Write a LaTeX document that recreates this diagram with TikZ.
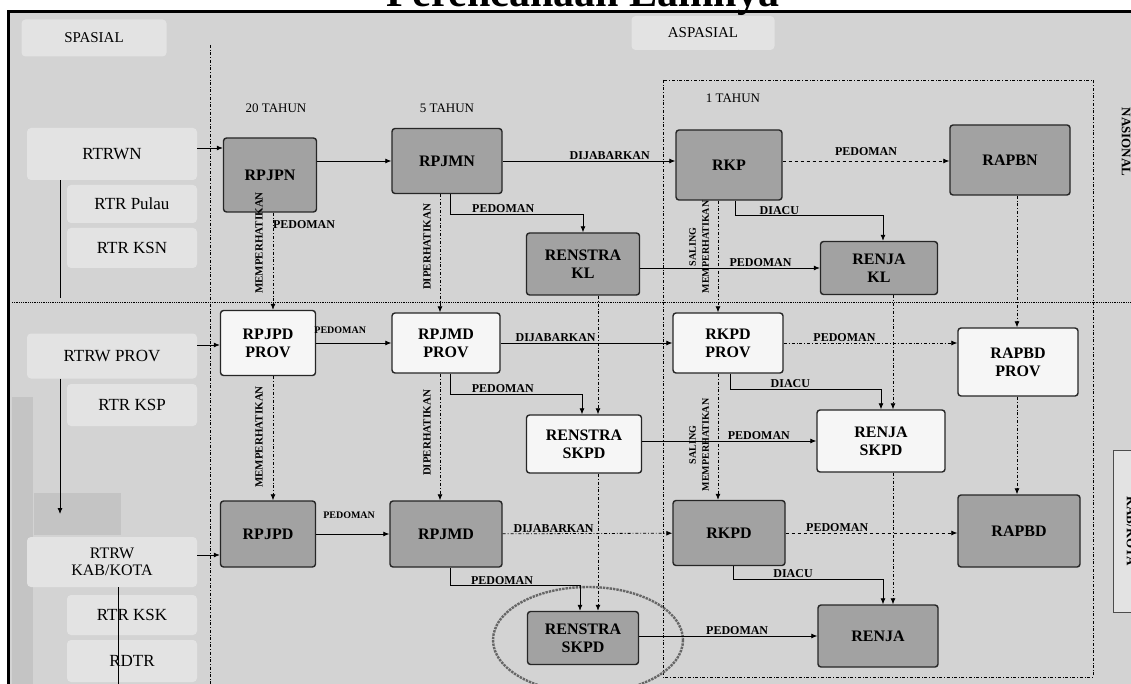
\documentclass[tikz,border=0pt]{standalone}
\usepackage{fontspec}
\setmainfont{Liberation Serif}
\usetikzlibrary{arrows.meta,positioning}
\definecolor{bggray}{HTML}{D3D3D3}
\definecolor{boxgray}{HTML}{A2A2A2}
\definecolor{boxwhite}{HTML}{F6F6F6}
\definecolor{sidegray}{HTML}{E3E3E3}
\definecolor{stripgray}{HTML}{C4C4C4}

\begin{document}
\begin{tikzpicture}[x=1pt,y=-1pt,>={Latex[length=6pt,width=5pt]}]
  \tikzstyle{plan}=[draw=black!85,line width=1.4pt,rounded corners=3pt,align=center,font=\bfseries\fontsize{16}{18}\selectfont,inner sep=2pt]
  \tikzstyle{gplan}=[plan,fill=boxgray]
  \tikzstyle{wplan}=[plan,fill=boxwhite]
  \tikzstyle{side}=[fill=sidegray,rounded corners=4pt,font=\fontsize{17}{19}\selectfont,align=center,inner sep=1pt]
  \tikzstyle{tag}=[font=\bfseries\fontsize{12}{13}\selectfont,inner sep=1pt]
  \tikzstyle{vtag}=[tag,rotate=90,font=\bfseries\fontsize{11}{12}\selectfont]
  \tikzstyle{link}=[thick,->]
  \tikzstyle{dlink}=[thick,->,dashed]
  \tikzstyle{ddlink}=[thick,->,dashdotted]
  \useasboundingbox (0,0) rectangle (1131,684);
  \fill[bggray] (8,12) rectangle (1131,684);
  \node[font=\bfseries\fontsize{42}{44}\selectfont,anchor=base] (title) at (583,7) {Perencanaan Lainnya};
  \draw[line width=3pt] (8,700) -- (8,12) -- (1140,12);
  % pembagi
  \draw[densely dotted,thick] (12,302) -- (1131,302);
  \draw[dashdotted,thick] (210,45) -- (210,684);
  \draw[dashdotted,thick] (663,80) rectangle (1093,677);
  % spasial
  \node[side,minimum width=145pt,minimum height=37pt,font=\fontsize{15}{17}\selectfont] (spasial) at (94,38) {SPASIAL};
  \node[side,minimum width=143pt,minimum height=34pt,font=\fontsize{15}{17}\selectfont] (aspasial) at (703,33) {ASPASIAL};
  \node[side,minimum width=170pt,minimum height=52pt] (rtrwn) at (112,154) {RTRWN};
  \node[side,minimum width=130pt,minimum height=38pt] (rtrpulau) at (132,204) {RTR Pulau};
  \node[side,minimum width=130pt,minimum height=40pt] (rtrksn) at (132,248) {RTR KSN};
  \node[side,minimum width=170pt,minimum height=45pt] (rtrwprov) at (112,356) {RTRW PROV};
  \node[side,minimum width=130pt,minimum height=42pt] (rtrksp) at (132,405) {RTR KSP};
  \fill[stripgray] (12,397) rectangle (33,684);
  \node[fill=stripgray,minimum width=87pt,minimum height=42pt] (rtrwnote) at (77,514) {};
  \node[side,minimum width=170pt,minimum height=50pt,font=\fontsize{16}{17}\selectfont] (rtrwkab) at (112,562) {RTRW\\KAB/KOTA};
  \node[side,minimum width=130pt,minimum height=40pt] (rtrksk) at (132,615) {RTR KSK};
  \node[side,minimum width=130pt,minimum height=42pt] (rdtr) at (132,661) {RDTR};
  % jangka waktu
  \node[tag,font=\fontsize{13}{14}\selectfont] (t20) at (276,108) {20 TAHUN};
  \node[tag,font=\fontsize{13}{14}\selectfont] (t5) at (447,108) {5 TAHUN};
  \node[tag,font=\fontsize{13}{14}\selectfont] (t1) at (733,98) {1 TAHUN};
  % nasional
  \node[gplan,minimum width=93pt,minimum height=74pt] (rpjpn) at (270,175) {RPJPN};
  \node[gplan,minimum width=110pt,minimum height=65pt] (rpjmn) at (447,161) {RPJMN};
  \node[gplan,minimum width=106pt,minimum height=70pt] (rkp) at (729,165) {RKP};
  \node[gplan,minimum width=120pt,minimum height=70pt] (rapbn) at (1010,160) {RAPBN};
  \node[gplan,minimum width=113pt,minimum height=62pt] (renstrakl) at (583,264) {RENSTRA\\KL};
  \node[gplan,minimum width=117pt,minimum height=53pt] (renjakl) at (879,268) {RENJA\\KL};
  % provinsi
  \node[wplan,minimum width=95pt,minimum height=65pt] (rpjpprov) at (268,343) {RPJPD\\PROV};
  \node[wplan,minimum width=108pt,minimum height=60pt] (rpjmprov) at (446,343) {RPJMD\\PROV};
  \node[wplan,minimum width=110pt,minimum height=60pt] (rkpprov) at (728,343) {RKPD\\PROV};
  \node[wplan,minimum width=120pt,minimum height=68pt] (rapbdprov) at (1018,362) {RAPBD\\PROV};
  \node[wplan,minimum width=115pt,minimum height=58pt] (renstraprov) at (584,444) {RENSTRA\\SKPD};
  \node[wplan,minimum width=128pt,minimum height=62pt] (renjaprov) at (881,441) {RENJA\\SKPD};
  % kabupaten/kota
  \node[gplan,minimum width=95pt,minimum height=66pt] (rpjpd) at (268,534) {RPJPD};
  \node[gplan,minimum width=112pt,minimum height=66pt] (rpjmd) at (446,534) {RPJMD};
  \node[gplan,minimum width=112pt,minimum height=65pt] (rkpd) at (729,533) {RKPD};
  \node[gplan,minimum width=122pt,minimum height=72pt] (rapbd) at (1019,531) {RAPBD};
  \node[gplan,minimum width=111pt,minimum height=53pt] (renstrakab) at (583,638) {RENSTRA\\SKPD};
  \node[gplan,minimum width=120pt,minimum height=62pt] (renjakab) at (878,636) {RENJA};
  \draw[densely dotted,line width=2.4pt,black!60] (588,640) ellipse (95 and 53);
  % label kanan
  \node[font=\bfseries\fontsize{13}{15}\selectfont,rotate=-90] (nasional) at (1126,142) {NASIONAL};
  \node[draw=black!70,fill=sidegray,rotate=-90,minimum width=162pt,minimum height=36pt,font=\bfseries\fontsize{13}{15}\selectfont] (kablabel) at (1131,531) {KAB/KOTA};
  % spasial ke aspasial
  \draw[link] ([yshift=6pt]rtrwn.east) -- ([yshift=6pt]rtrwn.east -| rpjpn.west);
  \draw[link] ([yshift=11pt]rtrwprov.east) -- ([yshift=11pt]rtrwprov.east -| rpjpprov.west);
  \draw[link] ([yshift=7pt]rtrwkab.east) -- ([yshift=7pt]rtrwkab.east -| rpjpd.west);
  \draw[thick] ([xshift=-52pt]rtrwn.south) -- ++(0,118);
  \draw[link] ([xshift=-52pt]rtrwprov.south) -- ([xshift=-17pt]rtrwnote.center);
  \draw[thick] ([xshift=6pt]rtrwkab.south) -- ++(0,100);
  % baris nasional
  \draw[link] (rpjpn.east |- rpjmn) -- (rpjmn);
  \node[tag] (pdm1) at (304,225) {PEDOMAN};
  \draw[link] (rpjmn) -- node[tag,above,pos=0.62] {DIJABARKAN} (rpjmn -| rkp.west);
  \draw[dlink] (rkp.east |- rpjmn) -- node[tag,above,yshift=4pt] {PEDOMAN} (rpjmn -| rapbn.west);
  \draw[link] ([xshift=3pt]rpjmn.south) |- node[tag,above,pos=0.7] {PEDOMAN} ([yshift=18pt]renstrakl.north) -- (renstrakl.north);
  \draw[link] ([xshift=6pt]rkp.south) |- node[tag,above,pos=0.65] {DIACU} ([yshift=25pt,xshift=4pt]renjakl.north) -- ([xshift=4pt]renjakl.north);
  \draw[link] (renstrakl.east |- renjakl) -- node[tag,above,pos=0.67] {PEDOMAN} (renjakl);
  % baris provinsi
  \draw[link] (rpjpprov) -- node[tag,above,pos=0.32,yshift=8pt,font=\bfseries\fontsize{10}{11}\selectfont] {PEDOMAN} (rpjmprov);
  \draw[link] (rpjmprov) -- node[tag,above,pos=0.32] {DIJABARKAN} (rkpprov);
  \draw[ddlink] (rkpprov) -- node[tag,above,pos=0.35] {PEDOMAN} (rkpprov -| rapbdprov.west);
  \draw[link] ([xshift=4pt]rpjmprov.south) |- node[tag,above,pos=0.7] {PEDOMAN} ([yshift=20pt,xshift=-2pt]renstraprov.north) -- ([xshift=-2pt]renstraprov.north);
  \draw[link] ([xshift=2pt]rkpprov.south) |- node[tag,above,pos=0.7] {DIACU} ([yshift=20pt]renjaprov.north) -- (renjaprov.north);
  \draw[link] (renstraprov.east |- renjaprov) -- node[tag,above,pos=0.67] {PEDOMAN} (renjaprov);
  % baris kabupaten/kota
  \draw[link] (rpjpd) -- node[tag,above,pos=0.45,yshift=14pt,font=\bfseries\fontsize{10}{11}\selectfont] {PEDOMAN} (rpjmd);
  \draw[ddlink] (rpjmd) -- node[tag,above,pos=0.3] {DIJABARKAN} (rkpd);
  \draw[dlink] (rkpd) -- node[tag,above,pos=0.3] {PEDOMAN} (rkpd -| rapbd.west);
  \draw[link] ([xshift=4pt]rpjmd.south) |- node[tag,above,pos=0.7] {PEDOMAN} ([yshift=25pt,xshift=-3pt]renstrakab.north) -- ([xshift=-3pt]renstrakab.north);
  \draw[link] ([xshift=4pt]rkpd.south) |- node[tag,above,pos=0.7] {DIACU} ([yshift=25pt,xshift=5pt]renjakab.north) -- ([xshift=5pt]renjakab.north);
  \draw[link] (renstrakab.east |- renjakab) -- node[tag,above,pos=0.55] {PEDOMAN} (renjakab);
  % hubungan vertikal
  \draw[ddlink] ([xshift=3pt]rpjpn.south) -- ([xshift=5pt]rpjpprov.north);
  \draw[ddlink] ([xshift=5pt]rpjpprov.south) -- ([xshift=5pt]rpjpd.north);
  \draw[ddlink] ([xshift=-7pt]rpjmn.south) -- ([xshift=-6pt]rpjmprov.north);
  \draw[ddlink] ([xshift=-6pt]rpjmprov.south) -- ([xshift=-6pt]rpjmd.north);
  \draw[ddlink] ([xshift=-11pt]rkp.south) -- ([xshift=-10pt]rkpprov.north);
  \draw[ddlink] ([xshift=-10pt]rkpprov.south) -- ([xshift=-11pt]rkpd.north);
  \draw[ddlink] ([xshift=15pt]renstrakl.south) -- ([xshift=14pt]renstraprov.north);
  \draw[ddlink] ([xshift=14pt]renstraprov.south) -- ([xshift=15pt]renstrakab.north);
  \draw[ddlink] ([xshift=14pt]renjakl.south) -- ([xshift=12pt]renjaprov.north);
  \draw[ddlink] ([xshift=12pt]renjaprov.south) -- ([xshift=15pt]renjakab.north);
  \draw[ddlink] ([xshift=7pt]rapbn.south) -- ([xshift=-1pt]rapbdprov.north);
  \draw[ddlink] ([xshift=-1pt]rapbdprov.south) -- ([xshift=-2pt]rapbd.north);
  \node[vtag] (v1) at (259,243) {MEMPERHATIKAN};
  \node[vtag] (v2) at (259,437) {MEMPERHATIKAN};
  \node[vtag] (v3) at (427,247) {DIPERHATIKAN};
  \node[vtag] (v4) at (427,433) {DIPERHATIKAN};
  \node[vtag,align=center,font=\bfseries\fontsize{10}{13}\selectfont] (v5) at (699,247) {SALING\\MEMPERHATIKAN};
  \node[vtag,align=center,font=\bfseries\fontsize{10}{13}\selectfont] (v6) at (699,445) {SALING\\MEMPERHATIKAN};
\end{tikzpicture}
\end{document}
